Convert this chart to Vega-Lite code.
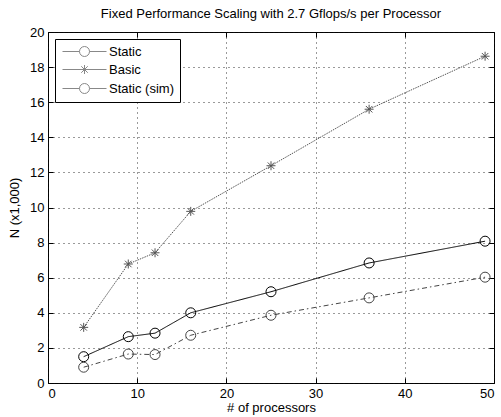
{
  "$schema": "https://vega.github.io/schema/vega-lite/v6.json",
  "autosize": "none",
  "width": 446,
  "height": 351,
  "padding": {"left": 48, "top": 32, "right": 7, "bottom": 34},
  "background": "white",
  "title": {
    "text": "Fixed Performance Scaling with 2.7 Gflops/s per Processor",
    "font": "Liberation Sans",
    "fontSize": 13,
    "fontWeight": "normal",
    "color": "black",
    "offset": 5
  },
  "config": {
    "view": {"stroke": "black", "strokeWidth": 1},
    "axis": {
      "labelFont": "Liberation Sans",
      "labelFontSize": 13,
      "labelColor": "black",
      "titleFont": "Liberation Sans",
      "titleFontSize": 13,
      "titleFontWeight": "normal",
      "titleColor": "black",
      "domain": false,
      "tickColor": "black",
      "tickSize": -5,
      "gridColor": "#111",
      "gridDash": [1, 4],
      "gridWidth": 1,
      "gridOpacity": 0.85
    }
  },
  "data": {
    "values": [
      {"procs": 4, "series": "Static", "n": 1.5},
      {"procs": 9, "series": "Static", "n": 2.64},
      {"procs": 12, "series": "Static", "n": 2.84},
      {"procs": 16, "series": "Static", "n": 4.0},
      {"procs": 25, "series": "Static", "n": 5.2},
      {"procs": 36, "series": "Static", "n": 6.84},
      {"procs": 49, "series": "Static", "n": 8.08},
      {"procs": 4, "series": "Basic", "n": 3.17},
      {"procs": 9, "series": "Basic", "n": 6.78},
      {"procs": 12, "series": "Basic", "n": 7.42},
      {"procs": 16, "series": "Basic", "n": 9.78},
      {"procs": 25, "series": "Basic", "n": 12.38},
      {"procs": 36, "series": "Basic", "n": 15.6},
      {"procs": 49, "series": "Basic", "n": 18.62},
      {"procs": 4, "series": "Static (sim)", "n": 0.9},
      {"procs": 9, "series": "Static (sim)", "n": 1.65},
      {"procs": 12, "series": "Static (sim)", "n": 1.62},
      {"procs": 16, "series": "Static (sim)", "n": 2.72},
      {"procs": 25, "series": "Static (sim)", "n": 3.86},
      {"procs": 36, "series": "Static (sim)", "n": 4.85},
      {"procs": 49, "series": "Static (sim)", "n": 6.03}
    ]
  },
  "layer": [
    {
      "mark": {"type": "line", "strokeWidth": 1},
      "encoding": {
        "x": {
          "field": "procs", "type": "quantitative",
          "scale": {"domain": [0, 50], "nice": false},
          "axis": {"values": [0, 10, 20, 30, 40, 50], "title": "# of processors", "labelPadding": 9, "titlePadding": 1, "grid": true}
        },
        "y": {
          "field": "n", "type": "quantitative",
          "scale": {"domain": [0, 20], "nice": false},
          "axis": {"values": [0, 2, 4, 6, 8, 10, 12, 14, 16, 18, 20], "title": "N (x1,000)", "labelPadding": 9, "titlePadding": 8, "grid": true}
        },
        "detail": {"field": "series"},
        "color": {
          "field": "series", "type": "nominal",
          "scale": {"domain": ["Static", "Basic", "Static (sim)"], "range": ["#000000", "#555555", "#444444"]},
          "legend": null
        },
        "strokeDash": {
          "field": "series", "type": "nominal",
          "scale": {"domain": ["Static", "Basic", "Static (sim)"], "range": [[1, 0], [1.5, 1], [5, 3, 1.5, 3]]},
          "legend": null
        }
      }
    },
    {
      "mark": {"type": "point", "filled": false, "strokeWidth": 1, "opacity": 1, "size": 100},
      "encoding": {
        "x": {"field": "procs", "type": "quantitative", "axis": null},
        "y": {"field": "n", "type": "quantitative", "axis": null},
        "color": {"field": "series", "type": "nominal", "legend": null},
        "shape": {
          "field": "series", "type": "nominal",
          "scale": {
            "domain": ["Static", "Basic", "Static (sim)"],
            "range": ["circle", "M-0.9,0L0.9,0M0,-0.9L0,0.9M-0.65,-0.65L0.65,0.65M-0.65,0.65L0.65,-0.65", "circle"]
          },
          "legend": null
        }
      }
    },
    {
      "transform": [{"filter": "datum.procs > 1000"}],
      "mark": {"type": "point", "filled": false, "strokeWidth": 1, "opacity": 1, "size": 100},
      "encoding": {
        "x": {
          "field": "procs", "type": "quantitative",
          "axis": {"orient": "top", "labels": false, "title": null, "grid": false, "values": [0, 10, 20, 30, 40, 50]}
        },
        "y": {
          "field": "n", "type": "quantitative",
          "axis": {"orient": "right", "labels": false, "title": null, "grid": false, "values": [0, 2, 4, 6, 8, 10, 12, 14, 16, 18, 20]}
        },
        "color": {"field": "series", "type": "nominal"},
        "strokeDash": {"field": "series", "type": "nominal"},
        "shape": {
          "field": "series", "type": "nominal",
          "scale": {
            "domain": ["Static", "Basic", "Static (sim)"],
            "range": [
              "M-1,0L2.4,0M4.4,0L7.8,0M2.4,0A1,1 0 1,1 4.4,0A1,1 0 1,1 2.4,0",
              "M-1,0L7.8,0M2.5,0L4.3,0M3.4,-0.9L3.4,0.9M2.75,-0.65L4.05,0.65M2.75,0.65L4.05,-0.65",
              "M-1,0L2.4,0M4.4,0L7.8,0M2.4,0A1,1 0 1,1 4.4,0A1,1 0 1,1 2.4,0"
            ]
          },
          "legend": {
            "title": null,
            "orient": "top-left",
            "offset": 7,
            "strokeColor": "black",
            "fillColor": "white",
            "padding": 6,
            "rowPadding": 4,
            "labelFont": "Liberation Sans",
            "labelFontSize": 13,
            "labelColor": "black",
            "labelOffset": 35,
            "symbolSize": 100,
            "symbolStrokeWidth": 1,
            "symbolOpacity": 1,
            "symbolFillColor": "transparent"
          }
        }
      }
    }
  ],
  "resolve": {"scale": {"shape": "independent"}, "axis": {"x": "independent", "y": "independent"}}
}
